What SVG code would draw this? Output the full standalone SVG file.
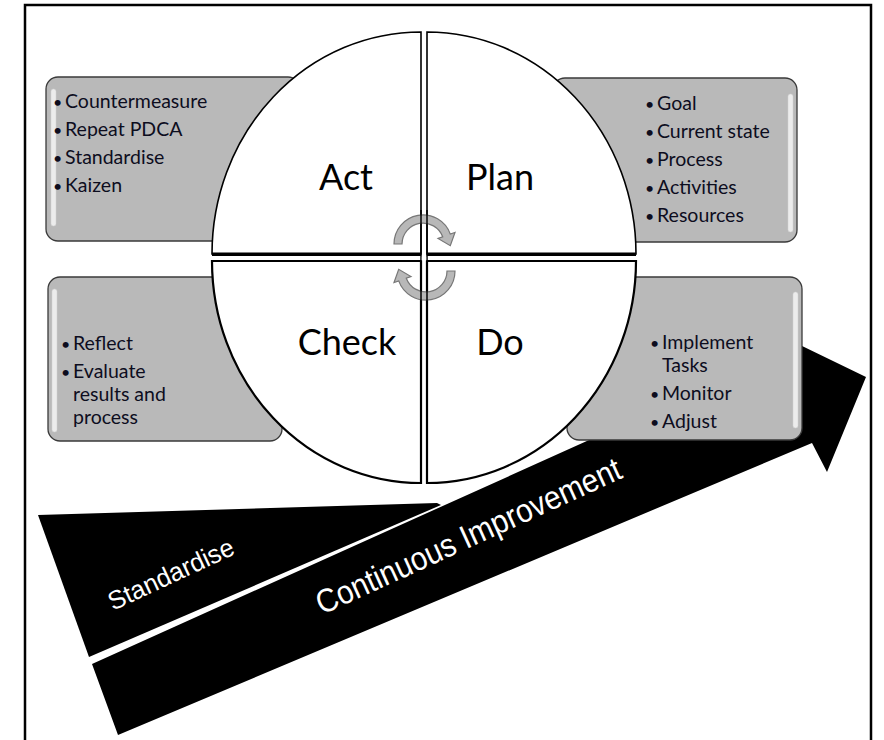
<svg xmlns="http://www.w3.org/2000/svg" width="884" height="740" viewBox="0 0 884 740">
<style>
.frame{fill:none;stroke:#000;stroke-width:2.5}
.box{fill:#b9b9b9;stroke:#3a3a3a;stroke-width:1.3}
.hl{fill:#ececec;stroke:#d0d0d0;stroke-width:0.5}
.quad{fill:#fff;stroke:#000;stroke-width:1.6}
.quadlow{fill:#fff;stroke:#000;stroke-width:2.2}
.cyc{fill:#b8b8b8;stroke:#777;stroke-width:1.2}
.bt{font-family:Lato,"Open Sans",sans-serif;font-size:19.5px;fill:#0d0d1e}
.bu{font-size:16px}
.lbl{font-family:Lato,"Open Sans",sans-serif;font-size:36px;fill:#000;text-anchor:middle}
.ci{font-family:"Liberation Sans",Arial,sans-serif;fill:#fff}
</style>
<rect width="884" height="740" fill="#fff"/>
<path class="frame" d="M25,740 L25,5 L871,5 L871,740"/>

<g id="improvement-arrow">
<polygon points="118,735 812,443 827,472 866,377 800,345 92,664" fill="#000"/>
<polygon points="38,515 437,503 441,505 89,657" fill="#000"/>
<text class="ci" font-size="26" transform="translate(113,611) rotate(-25)" textLength="136" lengthAdjust="spacingAndGlyphs">Standardise</text>
<text class="ci" font-size="33" transform="translate(322,615) rotate(-24.5)" textLength="332" lengthAdjust="spacingAndGlyphs">Continuous Improvement</text>
</g>

<g id="act-box">
<rect class="box" x="46" y="77" width="254" height="164" rx="12"/>
<rect class="hl" x="51" y="89" width="5" height="137" rx="2.5"/>
<text class="bt" y="108"><tspan class="bu" x="53">•</tspan><tspan x="65">Countermeasure</tspan></text>
<text class="bt" y="136"><tspan class="bu" x="53">•</tspan><tspan x="65">Repeat PDCA</tspan></text>
<text class="bt" y="164"><tspan class="bu" x="53">•</tspan><tspan x="65">Standardise</tspan></text>
<text class="bt" y="192"><tspan class="bu" x="53">•</tspan><tspan x="65">Kaizen</tspan></text>
</g>

<g id="plan-box">
<rect class="box" x="553" y="78" width="244" height="164" rx="12"/>
<rect class="hl" x="788" y="94" width="5" height="138" rx="2.5"/>
<text class="bt" y="110"><tspan class="bu" x="645">•</tspan><tspan x="657">Goal</tspan></text>
<text class="bt" y="138"><tspan class="bu" x="645">•</tspan><tspan x="657">Current state</tspan></text>
<text class="bt" y="166"><tspan class="bu" x="645">•</tspan><tspan x="657">Process</tspan></text>
<text class="bt" y="194"><tspan class="bu" x="645">•</tspan><tspan x="657">Activities</tspan></text>
<text class="bt" y="222"><tspan class="bu" x="645">•</tspan><tspan x="657">Resources</tspan></text>
</g>

<g id="check-box">
<rect class="box" x="48" y="277" width="234" height="164" rx="12"/>
<rect class="hl" x="52" y="289" width="5" height="143" rx="2.5"/>
<text class="bt" y="350"><tspan class="bu" x="61">•</tspan><tspan x="73">Reflect</tspan></text>
<text class="bt" y="378"><tspan class="bu" x="61">•</tspan><tspan x="73">Evaluate</tspan></text>
<text class="bt" y="401"><tspan x="73">results and</tspan></text>
<text class="bt" y="424"><tspan x="73">process</tspan></text>
</g>

<g id="do-box">
<rect class="box" x="567" y="277" width="235" height="163" rx="12"/>
<rect class="hl" x="793" y="292" width="5" height="136" rx="2.5"/>
<text class="bt" y="349"><tspan class="bu" x="650">•</tspan><tspan x="662">Implement</tspan></text>
<text class="bt" y="372"><tspan x="662">Tasks</tspan></text>
<text class="bt" y="400"><tspan class="bu" x="650">•</tspan><tspan x="662">Monitor</tspan></text>
<text class="bt" y="428"><tspan class="bu" x="650">•</tspan><tspan x="662">Adjust</tspan></text>
</g>

<g id="act">
<path class="quad" d="M421,254 L212,254 A209,222 0 0 1 421,32 Z"/>
<line x1="212" y1="254.3" x2="421" y2="254.3" stroke="#000" stroke-width="3.5"/>
<text class="lbl" x="346" y="190">Act</text>
</g>
<g id="plan">
<path class="quad" d="M427,254 L427,32 A209,222 0 0 1 636,254 Z"/>
<line x1="427" y1="254.3" x2="636" y2="254.3" stroke="#000" stroke-width="3.5"/>
<text class="lbl" x="500" y="190">Plan</text>
</g>
<g id="check">
<path class="quadlow" d="M421,261 L212,261 A209,222 0 0 0 421,483 Z"/>
<text class="lbl" x="347" y="355">Check</text>
</g>
<g id="do">
<path class="quadlow" d="M427,261 L636,261 A209,222 0 0 1 427,483 Z"/>
<text class="lbl" x="500" y="355">Do</text>
</g>

<g id="cycle-arrows">
<path class="cyc" d="M394,244 A29,29 0 0 1 450.3,234.1 L455,232.4 L450.3,245.7 L438,238.5 L442.7,236.8 A21,21 0 0 0 402,244 Z"/>
<path class="cyc" transform="rotate(180 424.5 257.5)" d="M394,244 A29,29 0 0 1 450.3,234.1 L455,232.4 L450.3,245.7 L438,238.5 L442.7,236.8 A21,21 0 0 0 402,244 Z"/>
<line x1="421" y1="210" x2="421" y2="305" stroke="#000" stroke-width="1.5"/>
<line x1="427" y1="210" x2="427" y2="305" stroke="#000" stroke-width="1.5"/>
<rect x="421.8" y="256.5" width="4.4" height="4" fill="#fff"/>
</g>
</svg>
